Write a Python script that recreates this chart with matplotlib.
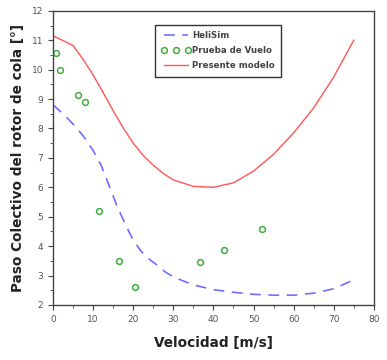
import matplotlib
matplotlib.use("Agg")
import matplotlib.pyplot as plt
from matplotlib.ticker import MultipleLocator

# HeliSim (dashed)
heli_x = [0, 2.5, 5, 7.5, 10, 12, 14, 16, 18, 20, 22, 24, 26, 28, 30, 35, 40, 45, 50, 55, 60, 65, 70, 75]
heli_y = [8.8, 8.5, 8.15, 7.75, 7.25, 6.75, 6.05, 5.35, 4.75, 4.2, 3.82, 3.55, 3.35, 3.12, 2.95, 2.68, 2.52, 2.43, 2.36, 2.33, 2.33, 2.4, 2.55, 2.85]

# Prueba de Vuelo (circles)
vuelo_x = [0.8, 1.7, 6.2, 8.0, 11.5, 16.4, 20.4, 36.6, 42.6, 52.1]
vuelo_y = [10.58, 10.0, 9.15, 8.9, 5.2, 3.5, 2.62, 3.45, 3.88, 4.57]

# Presente modelo (solid)
modelo_x = [0, 5, 7.5, 10, 12.5, 15, 17.5, 20, 22.5, 25, 27.5, 30, 35, 40, 45, 50, 55, 60, 65, 70, 75]
modelo_y = [11.15, 10.82, 10.35, 9.82, 9.22, 8.6, 8.02, 7.5, 7.08, 6.75, 6.47, 6.25, 6.03, 6.0, 6.15, 6.55, 7.12, 7.85, 8.7, 9.75, 11.0]

fig = plt.figure(figsize=(3.87, 3.6), dpi=100)
ax = fig.add_axes([0.137, 0.153, 0.829, 0.817])

ax.plot(heli_x, heli_y, color='#6e6eff', lw=1.2, dashes=(6.5, 4.5), label='HeliSim')
ax.plot(vuelo_x, vuelo_y, 'o', ms=4.2, mfc='none', mec='#3fae3f', mew=1.1, label='Prueba de Vuelo')
ax.plot(modelo_x, modelo_y, color='#ff5555', lw=1.0, label='Presente modelo')

ax.set_xlim(0, 80)
ax.set_ylim(2, 12)
ax.xaxis.set_major_locator(MultipleLocator(10))
ax.xaxis.set_minor_locator(MultipleLocator(5))
ax.yaxis.set_major_locator(MultipleLocator(1))
ax.yaxis.set_minor_locator(MultipleLocator(0.5))
ax.tick_params(which='both', direction='out', labelsize=6.5, labelcolor='#555555', color='#444444')
ax.tick_params(which='major', length=3.5)
ax.tick_params(which='minor', length=2)
for s in ax.spines.values():
    s.set_color('#444444')
    s.set_linewidth(1.0)

ax.set_xlabel('Velocidad [m/s]', fontsize=9.8, fontweight='bold', color='#222222', labelpad=9)
ax.set_ylabel('Paso Colectivo del rotor de cola [°]', fontsize=9.8, fontweight='bold', color='#222222', labelpad=5)

leg = ax.legend(loc='upper left', bbox_to_anchor=(0.305, 0.965), numpoints=3, fancybox=False,
                prop={'size': 6.2, 'weight': 'bold'}, handlelength=3.4, handletextpad=0.2,
                borderpad=0.7, labelspacing=0.7, framealpha=1)
leg.get_frame().set_edgecolor('#333333')
leg.get_frame().set_linewidth(1.0)
for t in leg.get_texts():
    t.set_color('#444444')

fig.savefig('out.png', dpi=100)
